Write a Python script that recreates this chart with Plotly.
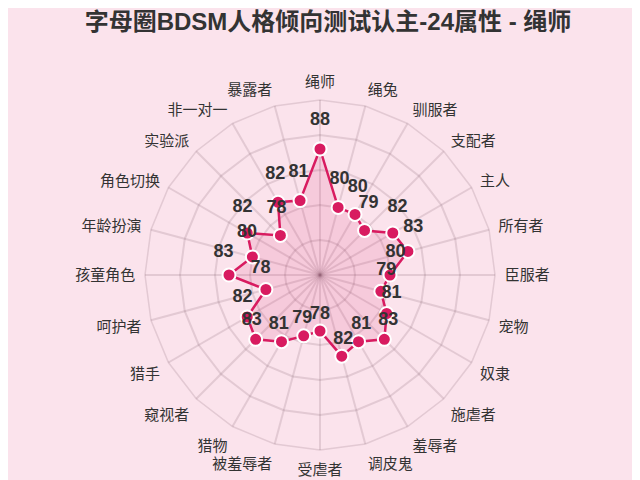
import plotly.graph_objects as go

categories = ["绳师", "绳兔", "驯服者", "支配者", "主人", "所有者", "臣服者", "宠物",
              "奴隶", "施虐者", "羞辱者", "调皮鬼", "受虐者", "被羞辱者", "猎物", "窥视者",
              "猎手", "呵护者", "孩童角色", "年龄扮演", "角色切换", "实验派", "非一对一", "暴露者"]
scores = [88, 80, 80, 79, 82, 83, 80, 79, 81, 83, 81, 82, 78, 79, 81, 83,
          82, 78, 83, 80, 82, 78, 82, 81]

PINK = "#d81b60"
FONT = "Liberation Sans, Noto Sans CJK SC, sans-serif"
GRID = "rgba(140,110,125,0.22)"

fig = go.Figure()

# close the polygon by repeating the first point
fig.add_trace(go.Scatterpolar(
    r=scores + scores[:1],
    theta=categories + categories[:1],
    mode="lines+markers",
    line=dict(color=PINK, width=2.5),
    marker=dict(size=13, color=PINK, line=dict(color="white", width=2)),
    fill="toself",
    fillcolor="rgba(216,27,96,0.12)",
    hoverinfo="skip",
))

# value labels: nudged slightly outward, pushed up by a big invisible marker
fig.add_trace(go.Scatterpolar(
    r=[s + 0.8 for s in scores],
    theta=categories,
    mode="markers+text",
    text=[str(s) for s in scores],
    textposition="top center",
    textfont=dict(family=FONT, size=18, color="#333333", weight="bold"),
    marker=dict(size=20, color="rgba(0,0,0,0)"),
    hoverinfo="skip",
))

fig.update_layout(
    width=640, height=480,
    paper_bgcolor="#fbe3ec",
    plot_bgcolor="#fbe3ec",
    showlegend=False,
    margin=dict(l=52, r=68, t=92, b=38),
    title=dict(text="<b>字母圈BDSM人格倾向测试认主-24属性 - 绳师</b>",
               x=0.5, xanchor="center", y=0.971, yanchor="middle",
               font=dict(family=FONT, size=24, color="#333333")),
    polar=dict(
        bgcolor="rgba(0,0,0,0)",
        gridshape="linear",
        radialaxis=dict(range=[70, 95], dtick=5, tick0=70, showticklabels=False,
                        ticks="", showline=False, gridcolor=GRID, gridwidth=1.5),
        angularaxis=dict(direction="clockwise", rotation=90,
                         tickfont=dict(family=FONT, size=15, color="#333333"),
                         ticks="outside", ticklen=6, tickcolor="rgba(0,0,0,0)",
                         showline=True, linecolor=GRID, linewidth=1.5,
                         gridcolor=GRID, gridwidth=1.5),
    ),
)

fig.write_html("out.html")
